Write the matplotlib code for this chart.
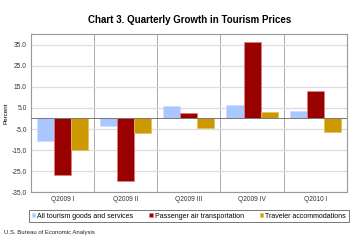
import matplotlib.pyplot as plt
import numpy as np

plt.rcParams['font.family'] = ['Liberation Sans', 'DejaVu Sans']

quarters = ['Q2009 I', 'Q2009 II', 'Q2009 III', 'Q2009 IV', 'Q2010 I']
all_tourism = [-10.5, -3.7, 5.9, 6.3, 3.5]
passenger_air = [-27.0, -29.8, 2.4, 36.3, 13.3]
traveler_acc = [-15.0, -6.8, -4.6, 3.2, -6.3]
series_names = ['All tourism goods and services', 'Passenger air transportation',
                'Traveler accommodations']
yticks = [35, 25, 15, 5, -5, -15, -25, -35]

colors = ['#aac8ff', '#990000', '#cc9900']
edges = ['#c8dcff', '#e08080', '#e0c060']

fig = plt.figure(figsize=(3.55, 2.41), dpi=100)
ax = fig.add_axes([0.0873, 0.203, 0.8897, 0.656])

x = np.arange(len(quarters))
w = 0.27
for i, (vals, c, e, name) in enumerate(zip([all_tourism, passenger_air, traveler_acc],
                                           colors, edges, series_names)):
    ax.bar(x + (i - 1) * w, vals, w, color=c, edgecolor=e, linewidth=0.5,
           label=name, zorder=3)

ax.set_xlim(-0.5, len(quarters) - 0.5)
ax.set_ylim(-35, 40.2)
ax.set_yticks(yticks)
ax.set_yticklabels([f'{v:.1f}' for v in yticks], fontsize=4.8, color='#333333')
ax.set_xticks(x)
ax.set_xticklabels(quarters, fontsize=4.8, color='#333333')
ax.tick_params(length=0, pad=3)
ax.yaxis.grid(True, color='#dddddd', linewidth=0.9, zorder=0)
for b in np.arange(0.5, len(quarters) - 0.5, 1):
    ax.axvline(b, color='#aaaaaa', linewidth=0.7, zorder=1)
ax.axhline(0, color='#777777', linewidth=0.7, zorder=4)
for s in ax.spines.values():
    s.set_color('#999999')
    s.set_linewidth(0.8)
ax.set_ylabel('Percent', fontsize=4.5, labelpad=2)

fig.text(0.535, 0.915, 'Chart 3. Quarterly Growth in Tourism Prices',
         ha='center', va='center', fontsize=7, fontweight='bold')

leg = fig.legend(loc='center', bbox_to_anchor=(0.532, 0.1035), ncol=3,
                 fontsize=5, frameon=True, fancybox=False, handlelength=0.5,
                 handleheight=0.5, handletextpad=0.3, columnspacing=2.3,
                 borderpad=0.4, edgecolor='#555555')
leg.get_frame().set_linewidth(0.7)

fig.text(0.011, 0.034, 'U.S. Bureau of Economic Analysis', fontsize=4.3,
         ha='left', va='center', color='#222222')

fig.savefig('out.png', dpi=100)
